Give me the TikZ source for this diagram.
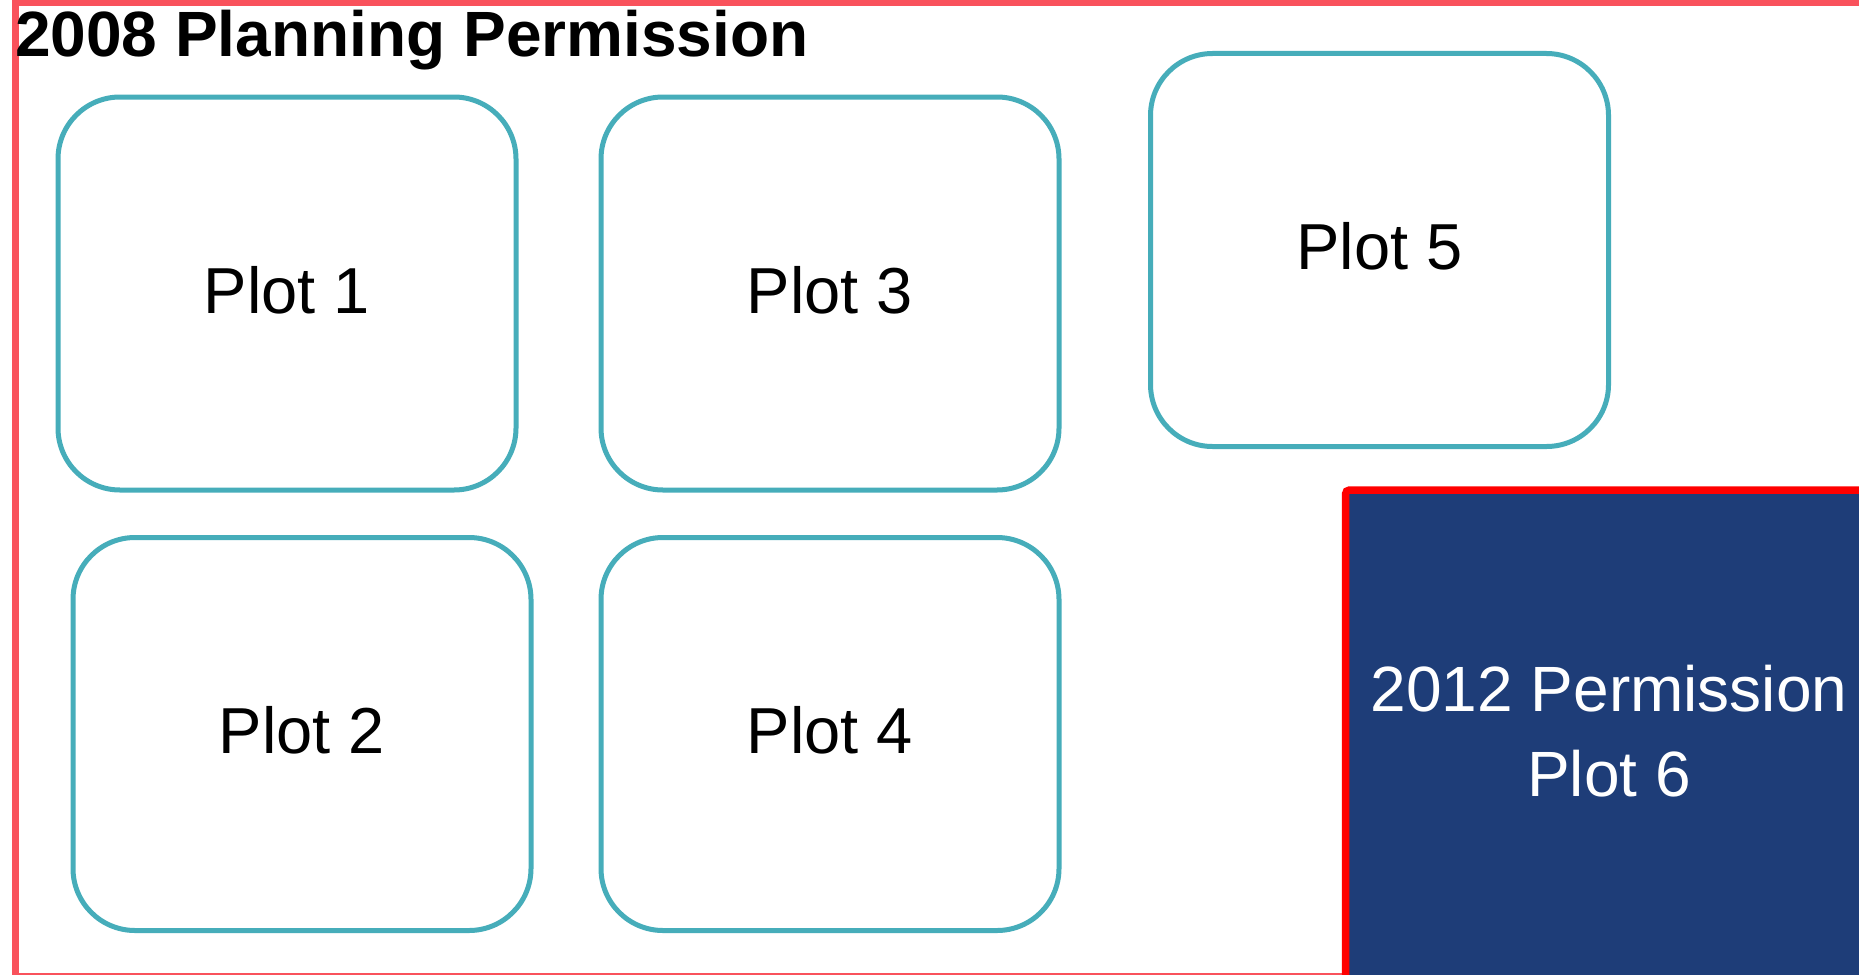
\documentclass[tikz,border=0pt]{standalone}
\usepackage{fontspec}
\setmainfont{Liberation Sans}
\definecolor{frameRed}{RGB}{249,82,92}
\definecolor{plotTeal}{RGB}{70,173,186}
\definecolor{navy}{RGB}{30,61,120}
\definecolor{pureRed}{RGB}{255,0,0}
\tikzset{
  plotbox/.style={draw=plotTeal, line width=5pt, rounded corners=62pt, fill=white,
    minimum width=458pt, minimum height=393pt, inner sep=0pt,
    text height=46.6pt, text depth=7pt,
    font=\fontsize{65}{76}\selectfont, text=black},
  titletext/.style={font=\fontsize{64}{72}\selectfont\bfseries, inner sep=0pt, anchor=base west},
  newtext/.style={font=\fontsize{64}{85}\selectfont, text=white, align=center, inner sep=0pt}
}
\begin{document}
\begin{tikzpicture}[x=1pt,y=-1pt]
\useasboundingbox (0,0) rectangle (1859,974);
\begin{scope}
\clip (0,0) rectangle (1859,974);
\fill[white] (0,0) rectangle (1859,974);
\draw[frameRed, line width=7pt] (15.5,3) rectangle (1900,976);
\draw[pureRed, line width=7.5pt, fill=navy, rounded corners=4pt] (1345.5,490) rectangle (1920,1010);
\end{scope}
\node[titletext] (title) at (15,56.7) {2008 Planning Permission};
\node[plotbox] (p1) at (287,293.5) {Plot 1};
\node[plotbox] (p3) at (830,293.5) {Plot 3};
\node[plotbox] (p5) at (1379.5,250) {Plot 5};
\node[plotbox] (p2) at (302,734) {Plot 2};
\node[plotbox] (p4) at (830,734) {Plot 4};
\node[newtext] (p6) at (1609,731.3) {2012 Permission\\Plot 6};
\end{tikzpicture}
\end{document}
